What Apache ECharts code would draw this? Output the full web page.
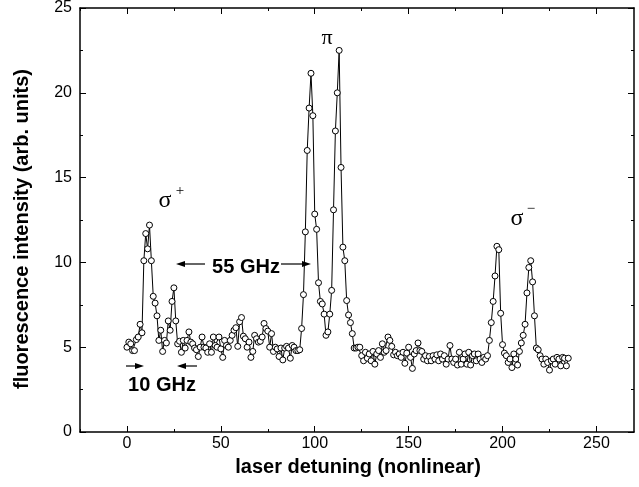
<!DOCTYPE html>
<html>
<head>
<meta charset="utf-8">
<script src="https://cdn.jsdelivr.net/npm/echarts@6/dist/echarts.min.js"></script>
<style>
  html, body { margin: 0; padding: 0; background: #fff; }
  #chart { width: 639px; height: 487px; }
</style>
</head>
<body>
<div id="chart"></div>
<script>
// detuning grid (step 1, starting at 0) and fluorescence readings
const detuningStart = 0
const intensity = [
  5.0, 5.3, 5.2, 4.8, 4.8, 5.45, 5.6, 6.35, 5.85, 10.1,
  11.7, 10.8, 12.2, 10.1, 8.0, 7.6, 6.85, 5.4, 6.0, 4.75,
  5.4, 5.25, 6.55, 6.0, 7.7, 8.5, 6.55, 5.2, 5.35, 4.7,
  5.4, 4.95, 5.4, 5.9, 5.3, 5.2, 4.95, 4.85, 4.45, 5.0,
  5.6, 5.0, 4.95, 4.7, 5.2, 4.7, 5.6, 5.1, 5.0, 5.6,
  4.9, 4.4, 5.4, 5.1, 5.0, 5.4, 5.7, 6.0, 6.15, 5.05,
  6.5, 6.75, 5.65, 5.5, 5.0, 5.3, 4.4, 4.75, 5.7, 5.5,
  5.3, 5.35, 5.6, 6.4, 6.1, 5.95, 5.0, 5.8, 4.75, 5.0,
  4.9, 4.45, 4.95, 4.25, 4.95, 5.05, 4.95, 4.35, 5.1, 5.0,
  4.8, 4.8, 4.85, 6.1, 8.1, 11.8, 16.6, 19.1, 21.15, 18.65,
  12.85, 11.95, 8.8, 7.7, 7.55, 6.95, 5.7, 5.9, 6.95, 8.35,
  13.1, 17.75, 20.0, 22.5, 15.6, 10.9, 10.1, 7.75, 6.9, 6.45,
  5.8, 4.95, 4.95, 5.0, 5.0, 4.5, 4.2, 4.7, 4.35, 4.6,
  4.2, 4.75, 4.0, 4.6, 4.8, 4.4, 5.2, 4.7, 4.8, 5.6,
  5.4, 5.05, 4.55, 4.7, 4.5, 4.6, 4.4, 4.7, 4.05, 4.65,
  5.0, 4.4, 3.75, 4.6, 4.8, 5.25, 4.8, 4.75, 4.3, 4.5,
  4.2, 4.45, 4.2, 4.5, 4.3, 4.55, 4.2, 4.6, 4.3, 4.5,
  4.0, 4.3, 5.1, 4.3, 4.1, 4.3, 3.95, 4.7, 4.0, 4.3,
  4.6, 4.0, 4.7, 3.95, 4.5, 4.6, 4.2, 4.6, 4.3, 4.1,
  4.4, 4.3, 4.5, 5.4, 6.45, 7.7, 9.2, 10.95, 10.75, 7.0,
  5.15, 4.65, 4.5, 4.1, 4.3, 3.8, 4.6, 4.3, 3.95, 4.75,
  5.25, 5.7, 6.35, 8.2, 9.7, 10.1, 8.85, 6.85, 4.95, 4.85,
  4.5, 4.3, 4.0, 4.3, 4.1, 3.65, 4.2, 4.3, 4.0, 4.4,
  4.3, 3.9, 4.4, 4.35, 3.9, 4.35
]
const xMajorTicks = [0, 50, 100, 150, 200, 250]
const xMinorTicks = [-25, 25, 75, 125, 175, 225]

const points = intensity.map((v, i) => [detuningStart + i, v])

const chart = echarts.init(document.getElementById('chart'), null, { renderer: 'canvas' })

const labelFont = { color: '#000', fontSize: 16, fontFamily: 'Liberation Sans, Arial, sans-serif' }
const lineStyle = { color: '#000', width: 1 }
const xBase = { type: 'value', min: -25, max: 270, splitLine: { show: false } }

function xAxisDef(pos, ticks, len, withLabels, showLine) {
  return Object.assign({}, xBase, {
    position: pos,
    axisLine: { show: showLine, onZero: false, lineStyle: { color: '#000', width: 1.5 } },
    axisTick: { show: true, inside: true, length: len, customValues: ticks, lineStyle },
    axisLabel: withLabels
      ? Object.assign({ show: true, margin: 4, customValues: ticks }, labelFont)
      : { show: false }
  })
}

function yAxisDef(pos, withLabels) {
  return {
    type: 'value', position: pos, min: 0, max: 25, interval: 5,
    splitLine: { show: false },
    axisLine: { show: true, onZero: false, lineStyle: { color: '#000', width: 1.5 } },
    axisTick: { show: true, inside: true, length: 6, lineStyle },
    minorTick: { show: true, splitNumber: 2, length: 3, lineStyle },
    axisLabel: withLabels ? Object.assign({ show: true, margin: 8 }, labelFont) : { show: false }
  }
}

function arrow(x1, x2, y) {
  const dir = x2 > x1 ? 1 : -1
  return [
    { type: 'line', shape: { x1: x1, y1: y, x2: x2 - dir * 6, y2: y }, style: { stroke: '#000', lineWidth: 1.2 } },
    { type: 'polygon', shape: { points: [[x2, y], [x2 - dir * 9, y - 3], [x2 - dir * 9, y + 3]] }, style: { fill: '#000' } }
  ]
}

const boldText = (x, y, text, extra) => Object.assign({
  type: 'text', x: x, y: y,
  style: { text: text, fill: '#000', font: 'bold 20px "Liberation Sans", Arial, sans-serif', align: 'center', verticalAlign: 'middle' }
}, extra || {})

const greek = (x, y, text, size) => ({
  type: 'text', x: x, y: y,
  style: { text: text, fill: '#000', font: size + 'px "Liberation Serif", "DejaVu Serif", serif', align: 'center', verticalAlign: 'middle' }
})

chart.setOption({
  backgroundColor: '#fff',
  animation: false,
  grid: { left: 80, right: 5, top: 8, bottom: 55 },
  xAxis: [
    xAxisDef('bottom', xMajorTicks, 6, true, true),
    xAxisDef('bottom', xMinorTicks, 3, false, false),
    xAxisDef('top', xMajorTicks, 6, false, true),
    xAxisDef('top', xMinorTicks, 3, false, false)
  ],
  yAxis: [yAxisDef('left', true), yAxisDef('right', false)],
  series: [{
    type: 'line', data: points, xAxisIndex: 0, yAxisIndex: 0,
    symbol: 'circle', symbolSize: 6, showSymbol: true,
    lineStyle: { color: '#000', width: 1 },
    itemStyle: { color: '#fff', borderColor: '#000', borderWidth: 1 }
  }],
  graphic: [
    boldText(22, 229, 'fluorescence intensity (arb. units)', { rotation: Math.PI / 2 }),
    boldText(358, 467, 'laser detuning (nonlinear)'),
    boldText(246, 267, '55 GHz'),
    boldText(162, 385, '10 GHz'),
    ...arrow(205, 176, 264),
    ...arrow(281, 311, 264),
    ...arrow(126, 144, 366),
    ...arrow(197, 177, 366),
    greek(165, 201, 'σ', 24),
    greek(180, 191, '+', 15),
    greek(327, 38, 'π', 22),
    greek(517, 219, 'σ', 24),
    greek(531, 209, '−', 15)
  ]
})
</script>
</body>
</html>
